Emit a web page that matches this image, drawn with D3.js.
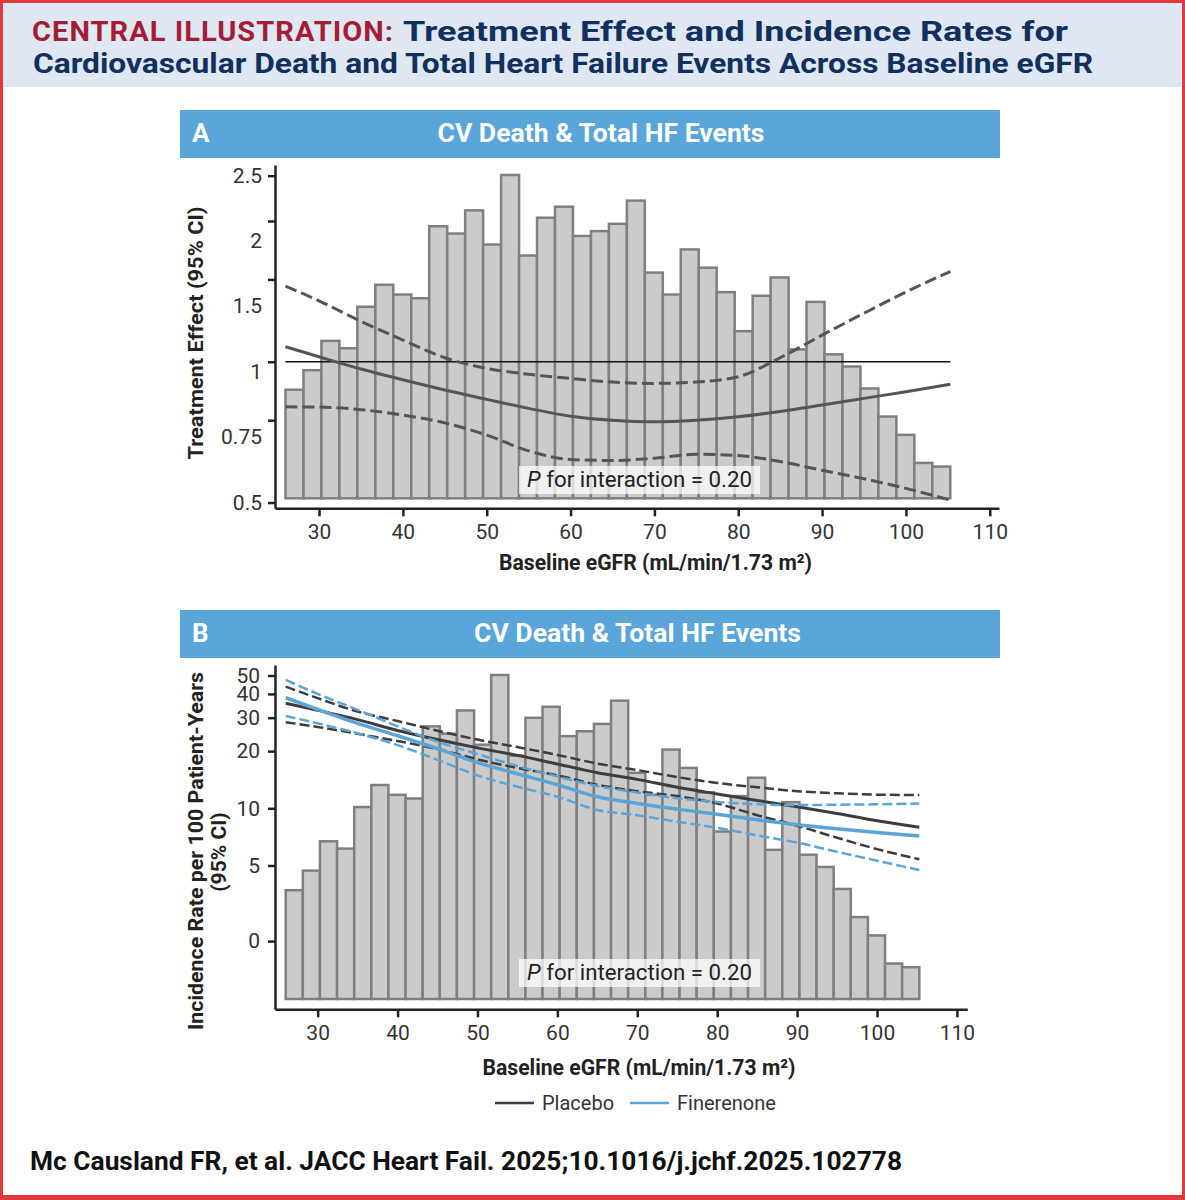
<!DOCTYPE html>
<html>
<head>
<meta charset="utf-8">
<script src="https://cdn.jsdelivr.net/npm/d3@7"></script>
<style>
  body { margin: 0; background: #fff; }
  text { font-family: Roboto, "Open Sans", sans-serif; }
</style>
</head>
<body>
<svg id="chart" width="1185" height="1200"></svg>
<script>
// histogram of baseline eGFR (patients per bin)
var binStart = 26.0;
var binWidth = 2.143;
var binCounts = [89, 105, 129, 123, 157, 175, 167, 164, 223, 217, 236, 208, 265, 199, 230, 239, 215,
                 219, 225, 244, 185, 167, 204, 189, 169, 137, 166, 181, 122, 161, 118, 108, 90, 67, 52, 29, 26];

// eGFR points where the spline curves were read
var egfrKnots = [26, 30, 35, 40, 45, 50, 55, 60, 65, 70, 75, 80, 85, 90, 95, 100, 105.3];

// Panel A: treatment effect (rate ratio) with 95% CI
var hrEst  = [1.077, 1.025, 0.965, 0.915, 0.870, 0.831, 0.795, 0.765, 0.750, 0.744, 0.750, 0.763, 0.783, 0.808, 0.835, 0.863, 0.895];
var hrLow  = [0.801, 0.800, 0.790, 0.769, 0.740, 0.697, 0.645, 0.618, 0.615, 0.622, 0.634, 0.630, 0.612, 0.586, 0.562, 0.536, 0.506];
var hrHigh = [1.452, 1.350, 1.220, 1.113, 1.020, 0.968, 0.940, 0.921, 0.905, 0.899, 0.905, 0.929, 1.020, 1.140, 1.270, 1.410, 1.560];

// Panel B: incidence rate per 100 patient-years with 95% CI
var placeboRate = [35.7, 32.8, 29.3, 25.7, 23.0, 20.8, 19.0, 17.1, 15.4, 14.2, 12.9, 11.9, 11.0, 10.2, 9.4, 8.6, 7.94];
var placeboLow  = [28.4, 26.8, 24.7, 22.6, 20.5, 18.1, 16.3, 14.9, 13.3, 12.3, 11.6, 10.6, 9.2, 8.1, 7.0, 6.1, 5.39];
var placeboHigh = [43.7, 38.0, 32.3, 28.8, 25.6, 23.0, 21.0, 19.1, 17.2, 15.9, 14.6, 13.6, 12.9, 12.3, 12.0, 11.8, 11.75];
var fineRate = [38.2, 33.2, 28.0, 24.1, 20.6, 17.4, 15.2, 13.3, 11.5, 10.6, 9.9, 9.3, 8.7, 8.2, 7.8, 7.45, 7.15];
var fineLow  = [30.6, 28.0, 24.8, 21.5, 18.0, 14.9, 13.0, 11.5, 9.8, 9.2, 8.5, 7.9, 7.2, 6.6, 5.9, 5.3, 4.73];
var fineHigh = [47.4, 40.0, 33.0, 27.0, 22.4, 19.3, 16.7, 14.7, 13.1, 12.1, 11.3, 10.8, 10.5, 10.4, 10.45, 10.5, 10.6];

// axis ticks
var xTicks = [30, 40, 50, 60, 70, 80, 90, 100, 110];
var hrTicks = [0.5, 0.75, 1, 1.5, 2, 2.5];
var hrTickLabels = ["0.5", "0.75", "1", "1.5", "2", "2.5"];
var rateTicks = [2, 5, 10, 20, 30, 40, 50];
var rateTickLabels = ["0", "5", "10", "20", "30", "40", "50"];

var dark = "#3d3d3d";
var blue = "#5ba4d8";
var svg = d3.select("#chart");

// frame and title band
svg.append("rect").attr("width", 1185).attr("height", 1200).attr("fill", "#e2383e");
svg.append("rect").attr("x", 3).attr("y", 3).attr("width", 1179).attr("height", 1192).attr("fill", "#fff");
svg.append("rect").attr("x", 3).attr("y", 3).attr("width", 1179).attr("height", 84).attr("fill", "#dfe7f3");

// squeeze or stretch a text to a width
function fit(sel, w) {
  sel.attr("textLength", w).attr("lengthAdjust", "spacingAndGlyphs");
  return sel;
}

fit(svg.append("text").attr("x", 32).attr("y", 41)
  .attr("font-size", 28).attr("font-weight", "bold").attr("fill", "#a51d35").attr("letter-spacing", 1)
  .text("CENTRAL ILLUSTRATION:"), 362);
fit(svg.append("text").attr("x", 403).attr("y", 41)
  .attr("font-size", 28).attr("font-weight", "bold").attr("fill", "#10305e")
  .text("Treatment Effect and Incidence Rates for"), 665);
fit(svg.append("text").attr("x", 33).attr("y", 73)
  .attr("font-size", 28).attr("font-weight", "bold").attr("fill", "#10305e")
  .text("Cardiovascular Death and Total Heart Failure Events Across Baseline eGFR"), 1060);

function xLabel(g, cx, y) {
  return g.append("text").attr("x", cx).attr("y", y).attr("text-anchor", "middle")
    .attr("font-size", 22).attr("font-weight", "bold").attr("fill", "#222")
    .text("Baseline eGFR (mL/min/1.73 m²)");
}

function drawPanel(p) {
  var g = svg.append("g");

  // header bar
  g.append("rect").attr("x", 180).attr("y", p.headTop).attr("width", 820).attr("height", 48).attr("fill", "#5aa5da");
  g.append("text").attr("x", 192).attr("y", p.headTop + 32).attr("font-size", 26).attr("font-weight", "bold")
    .attr("fill", "#fff").text(p.letter);
  fit(g.append("text").attr("x", p.headCx).attr("y", p.headTop + 32).attr("text-anchor", "middle")
    .attr("font-size", 26).attr("font-weight", "bold").attr("fill", "#fff").text("CV Death & Total HF Events"), 327);

  // histogram
  var yCount = d3.scaleLinear().domain([0, d3.max(binCounts)]).range([p.barBottom, p.barTop]);
  g.selectAll(".bar").data(binCounts).enter().append("rect")
    .attr("class", "bar")
    .attr("x", function(d, i) { return p.x(binStart + i * binWidth); })
    .attr("width", function(d, i) { return p.x(binStart + (i + 1) * binWidth) - p.x(binStart + i * binWidth); })
    .attr("y", function(d) { return yCount(d); })
    .attr("height", function(d) { return p.barBottom - yCount(d); })
    .attr("fill", "#cbcbcb").attr("stroke", "#7f7f7f").attr("stroke-width", 2.5);

  p.extra(g);

  // curves
  p.curves.forEach(function(c) {
    var pts = egfrKnots.map(function(e, i) { return [e, c.values[i]]; });
    g.append("path").datum(pts)
      .attr("fill", "none").attr("stroke", c.color).attr("stroke-width", c.width)
      .attr("stroke-dasharray", c.dash || null)
      .attr("d", d3.line()
        .x(function(d) { return p.x(d[0]); })
        .y(function(d) { return p.y(d[1]); })
        .curve(d3.curveMonotoneX));
  });

  // P for interaction box
  g.append("rect").attr("x", 519).attr("y", p.boxTop).attr("width", 241).attr("height", 28)
    .attr("fill", "#fff").attr("fill-opacity", 0.72);
  var pt = g.append("text").attr("x", 639.5).attr("y", p.boxTop + 21).attr("text-anchor", "middle")
    .attr("font-size", 22).attr("fill", "#222");
  pt.append("tspan").attr("font-style", "italic").text("P");
  pt.append("tspan").text(" for interaction = 0.20");
  fit(pt, 225);

  // x axis
  var xAxis = d3.axisBottom(p.x).tickValues(xTicks).tickSize(8).tickSizeOuter(0).tickPadding(8);
  var gx = g.append("g").attr("transform", "translate(0," + p.axisY + ")").call(xAxis);
  gx.select(".domain").attr("stroke", "#222").attr("stroke-width", 2.5);
  gx.selectAll(".tick line").attr("stroke", "#222").attr("stroke-width", 2.5);
  gx.selectAll(".tick text").attr("font-size", 21).attr("fill", "#333")
    .style("font-family", "Roboto, sans-serif");

  // y axis
  var yAxis = d3.axisLeft(p.y).tickValues(p.ticks).tickSize(7).tickSizeOuter(0).tickPadding(8)
    .tickFormat(p.tickFormat);
  var gy = g.append("g").attr("transform", "translate(275,0)").call(yAxis);
  gy.select(".domain").attr("stroke", "#222").attr("stroke-width", 2.5);
  gy.selectAll(".tick line").attr("stroke", "#222").attr("stroke-width", 2.5);
  gy.selectAll(".tick text").attr("font-size", 21).attr("fill", "#333")
    .style("font-family", "Roboto, sans-serif");

  fit(xLabel(g, p.xLabelCx, p.xLabelY), 313);
  p.yLabel(g);
  return g;
}

// Panel A
var xA = d3.scaleLinear().domain([24.75, 111.1]).range([275, 999]);
var yA = d3.scaleLog().domain([0.486, 2.635]).range([508.3, 165]);
// the printed labels of panel A sit evenly spaced, not on the log ticks
var yLabA = d3.scalePoint().domain(hrTickLabels).range([502, 175]);

drawPanel({
  letter: "A", headTop: 110, headCx: 601,
  x: xA, y: yA, axisY: 508.3, barBottom: 498.3, barTop: 175,
  ticks: hrTicks, tickFormat: function() { return ""; },
  boxTop: 466, xLabelCx: 655.5, xLabelY: 570,
  curves: [
    { values: hrEst, color: "#555", width: 3 },
    { values: hrLow, color: "#555", width: 3, dash: "12,5" },
    { values: hrHigh, color: "#555", width: 3, dash: "12,5" }
  ],
  extra: function(g) {
    g.append("line").attr("x1", xA(binStart)).attr("x2", xA(binStart + binCounts.length * binWidth))
      .attr("y1", yA(1)).attr("y2", yA(1)).attr("stroke", "#111").attr("stroke-width", 1.6);
  },
  yLabel: function(g) {
    g.selectAll(".ylabA").data(hrTickLabels).enter().append("text")
      .attr("x", 262).attr("y", function(d) { return yLabA(d); }).attr("dy", "0.36em")
      .attr("text-anchor", "end").attr("font-size", 21).attr("fill", "#333").text(function(d) { return d; });
    fit(g.append("text").attr("transform", "translate(203,333) rotate(-90)").attr("text-anchor", "middle")
      .attr("font-size", 21).attr("font-weight", "bold").attr("fill", "#222")
      .text("Treatment Effect (95% CI)"), 253);
  }
});

// Panel B
var xB = d3.scaleLinear().domain([24.66, 111.3]).range([275, 967.3]);
var yB = d3.scaleLog().domain([0.875, 56.8]).range([1009.3, 665]);

drawPanel({
  letter: "B", headTop: 610, headCx: 637.5,
  x: xB, y: yB, axisY: 1009.3, barBottom: 999, barTop: 675,
  ticks: rateTicks, tickFormat: function(d, i) { return rateTickLabels[i]; },
  boxTop: 959, xLabelCx: 639, xLabelY: 1075,
  curves: [
    { values: placeboLow, color: dark, width: 2.5, dash: "10,4" },
    { values: placeboHigh, color: dark, width: 2.5, dash: "10,4" },
    { values: placeboRate, color: dark, width: 3 },
    { values: fineLow, color: blue, width: 2.5, dash: "10,4" },
    { values: fineHigh, color: blue, width: 2.5, dash: "10,4" },
    { values: fineRate, color: blue, width: 3.5 }
  ],
  extra: function(g) {},
  yLabel: function(g) {
    fit(g.append("text").attr("transform", "translate(203,851) rotate(-90)").attr("text-anchor", "middle")
      .attr("font-size", 21).attr("font-weight", "bold").attr("fill", "#222")
      .text("Incidence Rate per 100 Patient-Years"), 358);
    g.append("text").attr("transform", "translate(226,852) rotate(-90)").attr("text-anchor", "middle")
      .attr("font-size", 21).attr("font-weight", "bold").attr("fill", "#222")
      .text("(95% CI)");
  }
});

// legend
var legendItems = [
  { name: "Placebo", color: dark, x: 495 },
  { name: "Finerenone", color: blue, x: 630 }
];
var lg = svg.append("g");
legendItems.forEach(function(d) {
  lg.append("line").attr("x1", d.x).attr("x2", d.x + 39).attr("y1", 1103).attr("y2", 1103)
    .attr("stroke", d.color).attr("stroke-width", 2.5);
  lg.append("text").attr("x", d.x + 47).attr("y", 1110).attr("font-size", 20).attr("fill", "#333").text(d.name);
});

// citation
fit(svg.append("text").attr("x", 30).attr("y", 1170).attr("font-size", 25).attr("font-weight", "bold")
  .attr("fill", "#111").text("Mc Causland FR, et al. JACC Heart Fail. 2025;10.1016/j.jchf.2025.102778"), 872);
</script>
</body>
</html>
